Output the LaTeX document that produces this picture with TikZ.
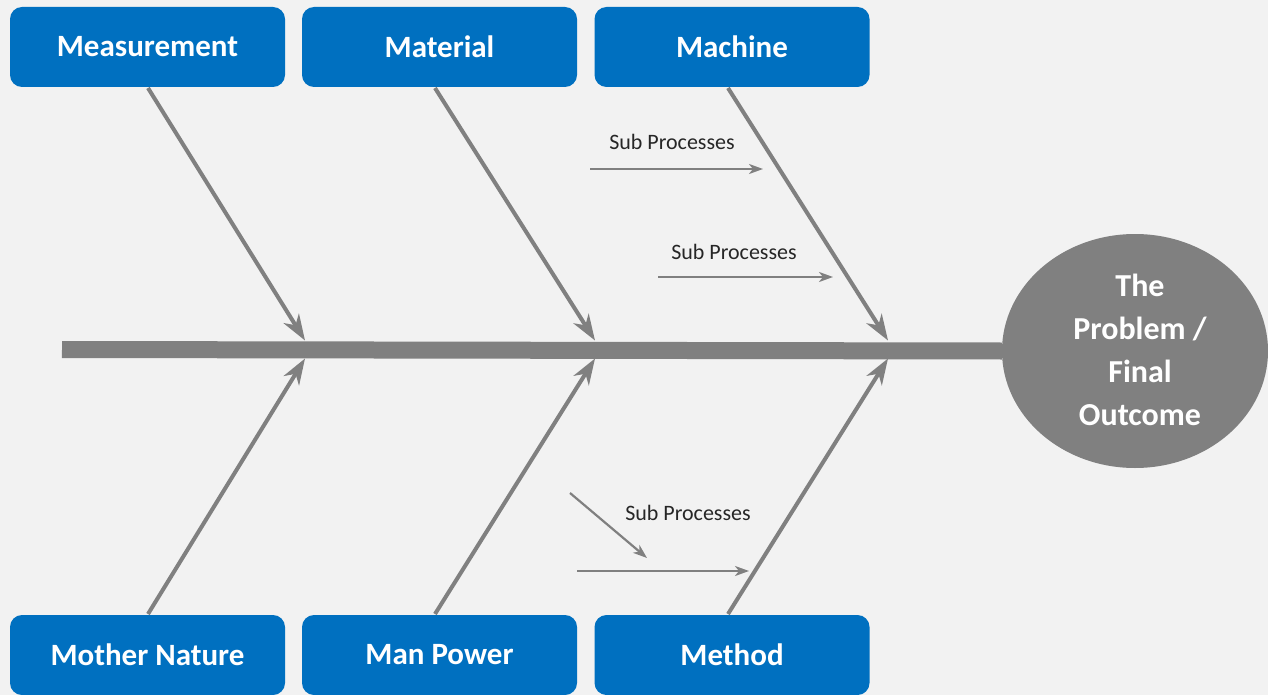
\documentclass[tikz,border=0pt]{standalone}
\usepackage{fontspec}
\setmainfont{Carlito}
\usetikzlibrary{arrows.meta,shapes.geometric}
\definecolor{bg}{HTML}{F2F2F2}
\definecolor{boxblue}{HTML}{0070C0}
\definecolor{bone}{HTML}{808080}
\tikzset{
  cat/.style={fill=boxblue, draw=none, rounded corners=12pt, minimum width=275pt, minimum height=80pt, text=white, font=\fontsize{31}{36}\selectfont\bfseries, inner sep=0pt},
  bonearrow/.style={draw=bone, line width=4pt, -{Stealth[length=26pt,width=18pt,inset=8pt]}},
  subarrow/.style={draw=bone, line width=2.2pt, -{Stealth[length=14pt,width=10pt,inset=4pt]}},
  sublabel/.style={font=\fontsize{22}{26}\selectfont, text=black!85, inner sep=0pt}
}
\begin{document}
\begin{tikzpicture}[x=1pt,y=-1pt]
\fill[bg] (0,0) rectangle (1268,695);
\useasboundingbox (0,0) rectangle (1268,695);
% category boxes
\node[cat] (meas) at (147.5,47) {Measurement};
\node[cat] (mat) at (439.5,47) {Material};
\node[cat] (mach) at (732,47) {Machine};
\node[cat] (nat) at (147.5,655) {Mother Nature};
\node[cat] (man) at (439.5,655) {Man Power};
\node[cat] (meth) at (732,655) {Method};
% problem
\node[ellipse, fill=bone, minimum width=266pt, minimum height=234pt, inner sep=0pt] (prob) at (1135,351) {};
\node[text=white, align=center, font=\fontsize{32}{43}\selectfont\bfseries, inner sep=0pt] (probtext) at (1140,350) {The\\Problem /\\Final\\Outcome};
% spine
\coordinate (sL) at (62,349.5);
\draw[bone, line width=17pt] (sL) -- (prob.west);
% junctions
\coordinate (j1) at (305,349.5);
\coordinate (j2) at (595,349.5);
\coordinate (j3) at (888,349.5);
\coordinate (m1t) at (148,88);
\coordinate (m2t) at (435,88);
\coordinate (m3t) at (728,88);
\coordinate (m1b) at (148,614);
\coordinate (m2b) at (435,614);
\coordinate (m3b) at (728,614);
\draw[bonearrow] (m1t) -- ([yshift=9pt]j1);
\draw[bonearrow] (m2t) -- ([yshift=9pt]j2);
\draw[bonearrow] (m3t) -- ([yshift=9pt]j3);
\draw[bonearrow] (m1b) -- ([yshift=-9pt]j1);
\draw[bonearrow] (m2b) -- ([yshift=-9pt]j2);
\draw[bonearrow] (m3b) -- ([yshift=-9pt]j3);
% sub processes
\node[sublabel] (s1) at (672,142) {Sub Processes};
\coordinate (a1s) at (590,169);
\coordinate (a1e) at (763,169);
\draw[subarrow] (a1s) -- (a1e);
\node[sublabel] (s2) at (734,252) {Sub Processes};
\coordinate (a2s) at (658,277);
\coordinate (a2e) at (833,277);
\draw[subarrow] (a2s) -- (a2e);
\node[sublabel] (s3) at (688,513) {Sub Processes};
\coordinate (a3s) at (577,571);
\coordinate (a3e) at (749,571);
\draw[subarrow] (a3s) -- (a3e);
\coordinate (a4s) at (570,493);
\coordinate (a4e) at (647,558);
\draw[subarrow] (a4s) -- (a4e);
\end{tikzpicture}
\end{document}
